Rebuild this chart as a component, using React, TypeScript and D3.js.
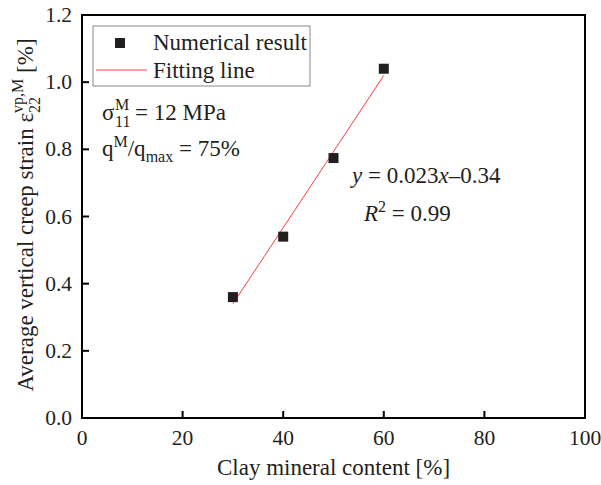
import React from "react";
import * as d3 from "d3";

const clayContent = [30, 40, 50, 60];
const creepStrain = [0.36, 0.54, 0.774, 1.04];
const fitX = [30, 60];
const fitY = [0.34, 1.02];
const xTicks = [0, 20, 40, 60, 80, 100];
const yTicks = [0.0, 0.2, 0.4, 0.6, 0.8, 1.0, 1.2];

const W = 601, H = 485;
const L = 82, R = 585, T = 15, B = 418;
const FONT = "'Liberation Serif', 'DejaVu Serif'";
const ink = "#231f20";

export default function App() {
  const x = d3.scaleLinear().domain([0, 100]).range([L, R]);
  const y = d3.scaleLinear().domain([0, 1.2]).range([B, T]);
  const line = d3.line<number>().x((d, i) => x(fitX[i])).y((d) => y(d));
  const ts = { fontFamily: FONT, fill: ink } as React.CSSProperties;
  return (
    <svg width={W} height={H} style={{ position: "absolute", left: 0, top: 0, fontFamily: FONT }}>
      <rect x={0} y={0} width={W} height={H} fill="#fff" />
      <path d={line(fitY) || ""} stroke="#ff3b3b" strokeWidth={1} fill="none" />
      {clayContent.map((c, i) => (
        <rect key={i} x={x(c) - 5} y={y(creepStrain[i]) - 5} width={10} height={10} fill={ink} />
      ))}
      <rect x={L} y={T} width={R - L} height={B - T} fill="none" stroke="#000" strokeWidth={2} />
      {xTicks.map((t) => (
        <g key={"x" + t}>
          <line x1={x(t)} x2={x(t)} y1={B} y2={B - 7} stroke="#000" strokeWidth={2} />
          <text x={x(t)} y={445} textAnchor="middle" fontSize={21.5} style={ts}>{t}</text>
        </g>
      ))}
      {yTicks.map((t) => (
        <g key={"y" + t}>
          <line x1={L} x2={L + 7} y1={y(t)} y2={y(t)} stroke="#000" strokeWidth={2} />
          <text x={72} y={y(t) + 7} textAnchor="end" fontSize={21.5} style={ts}>{t.toFixed(1)}</text>
        </g>
      ))}
      <text x={(L + R) / 2} y={475} textAnchor="middle" fontSize={23} style={ts}>Clay mineral content [%]</text>
      <g transform={`translate(33, 215) rotate(-90)`}>
        <text x={0} y={0} textAnchor="middle" fontSize={23} style={ts}>
          Average vertical creep strain ε
          <tspan fontSize={16} dy={7}>22</tspan>
          <tspan fontSize={16} dy={-17} dx={-16}>vp,M</tspan>
          <tspan dy={10}> [%]</tspan>
        </text>
      </g>
      <rect x={93} y={26} width={217} height={60} fill="#fff" stroke="#888" strokeWidth={1} />
      <rect x={115} y={38} width={10} height={10} fill={ink} />
      <text x={153} y={50} fontSize={23} style={ts}>Numerical result</text>
      <line x1={96} x2={147} y1={70} y2={70} stroke="#ff3b3b" strokeWidth={1} />
      <text x={153} y={78} fontSize={23} style={ts}>Fitting line</text>
      <text x={102} y={120} fontSize={23} style={ts}>σ</text>
      <text x={115} y={127} fontSize={16} style={ts}>11</text>
      <text x={115} y={110} fontSize={16} style={ts}>M</text>
      <text x={135} y={120} fontSize={23} style={ts}>= 12 MPa</text>
      <text x={102} y={156} fontSize={23} style={ts}>
        q<tspan fontSize={16} dy={-9}>M</tspan>
        <tspan dy={9}>/q</tspan>
        <tspan fontSize={16} dy={6}>max</tspan>
        <tspan dy={-6}> = 75%</tspan>
      </text>
      <text x={352} y={183} fontSize={23} style={ts}>
        <tspan fontStyle="italic">y</tspan> = 0.023<tspan fontStyle="italic">x</tspan>–0.34
      </text>
      <text x={364} y={221} fontSize={23} style={ts}>
        <tspan fontStyle="italic">R</tspan>
        <tspan fontSize={16} dy={-9}>2</tspan>
        <tspan dy={9}> = 0.99</tspan>
      </text>
    </svg>
  );
}
